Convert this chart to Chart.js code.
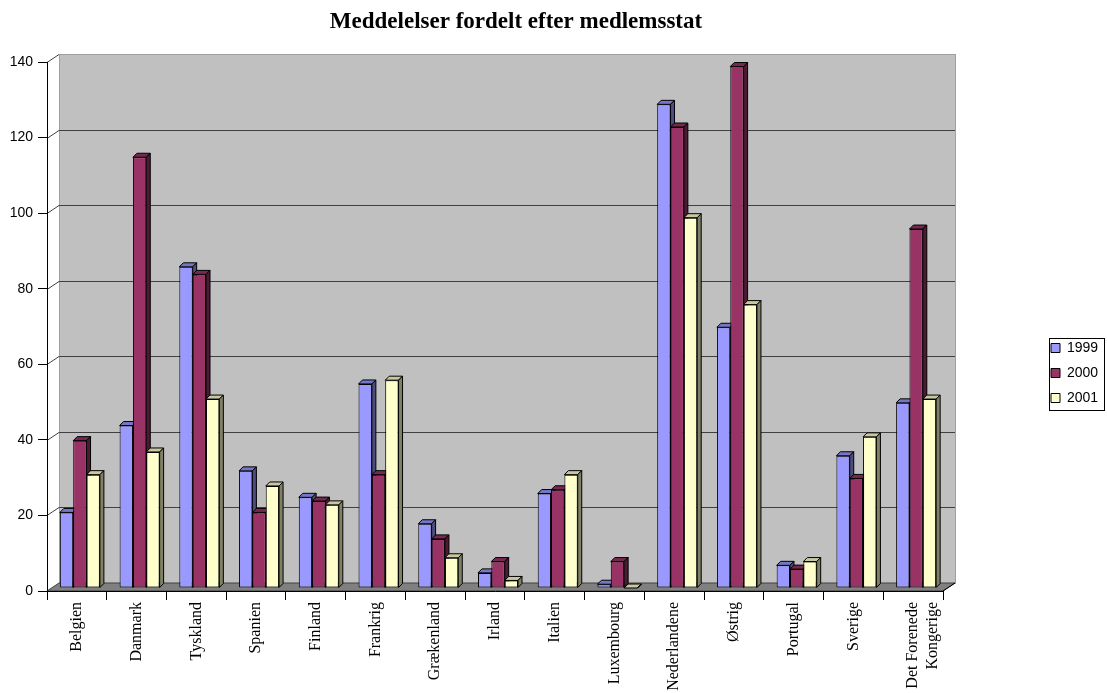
<!DOCTYPE html>
<html>
<head>
<meta charset="utf-8">
<script src="https://cdn.jsdelivr.net/npm/chart.js@4/dist/chart.umd.min.js"></script>
<style>
  html, body { margin: 0; padding: 0; background: #ffffff; }
  #wrap { width: 1107px; height: 693px; }
</style>
</head>
<body>
<div id="wrap"><canvas id="chart"></canvas></div>
<script>
const categories = [
  'Belgien', 'Danmark', 'Tyskland', 'Spanien', 'Finland', 'Frankrig', 'Grækenland',
  'Irland', 'Italien', 'Luxembourg', 'Nederlandene', 'Østrig', 'Portugal', 'Sverige',
  ['Det Forenede', 'Kongerige']
];
const seriesNames = ['1999', '2000', '2001'];
const values1999 = [20, 43, 85, 31, 24, 54, 17, 4, 25, 1, 128, 69, 6, 35, 49];
const values2000 = [39, 114, 83, 20, 23, 30, 13, 7, 26, 7, 122, 138, 5, 29, 95];
const values2001 = [30, 36, 50, 27, 22, 55, 8, 2, 30, 0, 98, 75, 7, 40, 50];
const yTicks = [0, 20, 40, 60, 80, 100, 120, 140];

const FRONT = ['#9999ff', '#993366', '#ffffcc'];
const TOP = ['#7676c8', '#772850', '#c8c8a0'];
const SIDE = ['#4c4c80', '#4c1a33', '#808066'];

// depth of the back wall and of the bars
const WALL_DX = 12, WALL_DY = 8;
const BAR_DX = 4, BAR_DY = 4;
const BAR_SHIFT_X = 3, BAR_SHIFT_Y = -3;

const SANS = "'Liberation Sans', Arial, sans-serif";
const SERIF = "'Liberation Serif', 'Times New Roman', serif";

const wallPlugin = {
  id: 'wall',
  beforeDraw(chart) {
    const ctx = chart.ctx;
    const ys = chart.scales.y;
    const { left, right, bottom } = chart.chartArea;
    const yTop = ys.getPixelForValue(yTicks[yTicks.length - 1]);

    ctx.save();
    // back wall
    ctx.fillStyle = '#c0c0c0';
    ctx.fillRect(left + WALL_DX, yTop - WALL_DY, right - left, bottom - yTop);
    ctx.strokeStyle = '#a0a0a0';
    ctx.lineWidth = 1;
    ctx.strokeRect(left + WALL_DX + 0.5, yTop - WALL_DY + 0.5, right - left, bottom - yTop);

    // floor
    ctx.beginPath();
    ctx.moveTo(left, bottom);
    ctx.lineTo(right, bottom);
    ctx.lineTo(right + WALL_DX, bottom - WALL_DY);
    ctx.lineTo(left + WALL_DX, bottom - WALL_DY);
    ctx.closePath();
    ctx.fillStyle = '#808080';
    ctx.fill();
    ctx.strokeStyle = '#404040';
    ctx.stroke();
    ctx.beginPath();
    ctx.moveTo(right, bottom);
    ctx.lineTo(right + WALL_DX, bottom - WALL_DY);
    ctx.strokeStyle = '#000000';
    ctx.stroke();

    // gridlines on side wall and back wall
    yTicks.forEach(v => {
      if (v === 0) return;
      const y = Math.round(ys.getPixelForValue(v)) + 0.5;
      ctx.beginPath();
      ctx.moveTo(left, y);
      ctx.lineTo(left + WALL_DX, y - WALL_DY);
      if (v !== yTicks[yTicks.length - 1]) {
        ctx.lineTo(right + WALL_DX, y - WALL_DY);
      }
      ctx.strokeStyle = '#404040';
      ctx.stroke();
    });
    ctx.restore();
  },
  afterLayout(chart) {
    // title centred like the original, legend parked at the right
    const t = chart.titleBlock;
    t.left = 0;
    t.right = 1032;
    const lg = chart.legend;
    const w = lg.width, h = lg.height;
    lg.left = 1040;
    lg.top = 330;
    lg.right = lg.left + w + 20;
    lg.bottom = lg.top + h + 20;
  },
  afterDraw(chart) {
    const ctx = chart.ctx;
    const lg = chart.legend;
    ctx.save();
    ctx.strokeStyle = '#000000';
    ctx.lineWidth = 1;
    ctx.strokeRect(lg.left + 9.5, lg.top + 8.5, 55, 72);
    ctx.restore();
  }
};

const bars3dPlugin = {
  id: 'bars3d',
  beforeDatasetDraw() {
    return false;
  },
  afterDatasetsDraw(chart) {
    const ctx = chart.ctx;
    const metas = chart.data.datasets.map((d, i) => chart.getDatasetMeta(i));
    ctx.save();
    ctx.translate(BAR_SHIFT_X, BAR_SHIFT_Y);
    ctx.lineWidth = 1;
    ctx.strokeStyle = '#000000';
    ctx.lineJoin = 'miter';
    for (let j = 0; j < categories.length; j++) {
      metas.forEach((meta, i) => {
        const bar = meta.data[j];
        if (!bar) return;
        const { x, y, base, width } = bar.getProps(['x', 'y', 'base', 'width'], true);
        const l = x - width / 2;
        const r = x + width / 2;
        bar.draw(ctx);

        // top face
        ctx.beginPath();
        ctx.moveTo(l, y);
        ctx.lineTo(l + BAR_DX, y - BAR_DY);
        ctx.lineTo(r + BAR_DX, y - BAR_DY);
        ctx.lineTo(r, y);
        ctx.closePath();
        ctx.fillStyle = TOP[i];
        ctx.fill();
        ctx.stroke();

        // side face
        ctx.beginPath();
        ctx.moveTo(r, y);
        ctx.lineTo(r + BAR_DX, y - BAR_DY);
        ctx.lineTo(r + BAR_DX, base - BAR_DY);
        ctx.lineTo(r, base);
        ctx.closePath();
        ctx.fillStyle = SIDE[i];
        ctx.fill();
        ctx.stroke();
      });
    }
    ctx.restore();
  }
};

const series = [values1999, values2000, values2001];

new Chart(document.getElementById('chart'), {
  type: 'bar',
  data: {
    labels: categories,
    datasets: series.map((vals, i) => ({
      label: seriesNames[i],
      data: vals,
      backgroundColor: FRONT[i],
      borderColor: '#000000',
      borderWidth: 1,
      borderSkipped: false,
      categoryPercentage: 0.67,
      barPercentage: 1.0,
      clip: false
    }))
  },
  options: {
    responsive: true,
    maintainAspectRatio: false,
    animation: false,
    layout: {
      padding: { left: 0, right: 164, top: 0, bottom: 0 }
    },
    plugins: {
      title: {
        display: true,
        text: 'Meddelelser fordelt efter medlemsstat',
        color: '#000000',
        font: { family: SERIF, size: 23, weight: 'bold' },
        padding: { top: 8, bottom: 26.4 }
      },
      legend: {
        display: true,
        position: 'chartArea',
        align: 'start',
        labels: {
          color: '#000000',
          font: { family: SANS, size: 14 },
          boxWidth: 9,
          boxHeight: 9,
          padding: 11
        }
      },
      tooltip: { enabled: false }
    },
    scales: {
      x: {
        offset: true,
        grid: {
          offset: true,
          drawOnChartArea: false,
          drawTicks: true,
          tickLength: 9,
          color: '#000000'
        },
        border: { display: true, color: '#000000' },
        ticks: {
          color: '#000000',
          font: { family: SERIF, size: 16 },
          minRotation: 90,
          maxRotation: 90,
          autoSkip: false,
          padding: 2
        },
        afterFit(scale) {
          scale.height = 102;
        }
      },
      y: {
        min: 0,
        max: 140,
        grid: {
          drawOnChartArea: false,
          drawTicks: true,
          tickLength: 9,
          color: '#000000'
        },
        border: { display: true, color: '#000000' },
        ticks: {
          stepSize: 20,
          color: '#000000',
          font: { family: SANS, size: 14 },
          padding: 5
        },
        afterFit(scale) {
          scale.width = 47;
        }
      }
    }
  },
  plugins: [wallPlugin, bars3dPlugin]
});
</script>
</body>
</html>
